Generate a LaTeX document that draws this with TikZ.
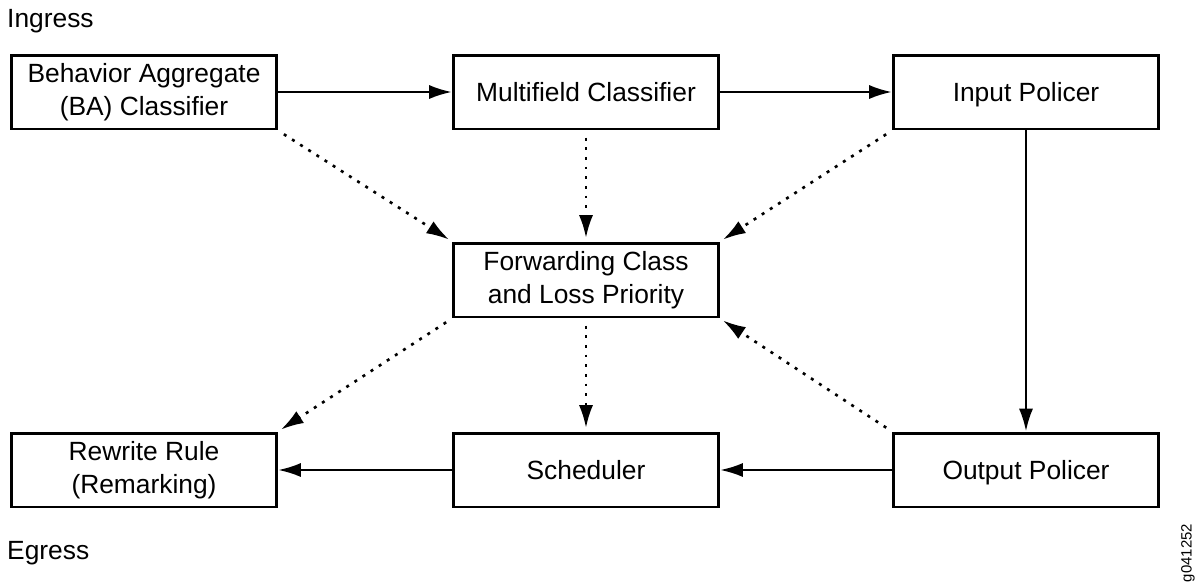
\documentclass[tikz,border=0pt]{standalone}
\usepackage{fontspec}
\setmainfont{Liberation Sans}
\usetikzlibrary{arrows.meta}

\begin{document}
\begin{tikzpicture}[x=0.02cm, y=-0.02cm,
	box/.style={draw, line width=1.7pt, minimum width=5.3cm, minimum height=1.48cm,
		align=center, inner sep=0pt, font=\fontsize{15}{18.5}\selectfont},
	oneline/.style={text height=10.8pt, text depth=0pt},
	flow/.style={line width=1.5pt, -{Latex[length=13pt,width=8pt]}},
	link/.style={flow, dash pattern=on 1.7pt off 3.8pt, shorten <=4pt, shorten >=2pt}]
	\useasboundingbox (0,0) rectangle (1198,586);

	\node[anchor=west, font=\fontsize{15}{18}\selectfont] (ingress) at (1,21) {Ingress};
	\node[anchor=west, font=\fontsize{15}{18}\selectfont] (egress) at (1,553) {Egress};
	\node[rotate=90, font=\fontsize{8.5}{10}\selectfont] (figid) at (1188,553) {g041252};

	\node[box] (ba) at (144,92) {Behavior Aggregate\\(BA) Classifier};
	\node[box, oneline] (mf) at (586,92) {Multifield Classifier};
	\node[box, oneline] (inpol) at (1026,92) {Input Policer};
	\node[box] (fc) at (586,280) {Forwarding Class\\and Loss Priority};
	\node[box] (rw) at (144,470) {Rewrite Rule\\(Remarking)};
	\node[box, oneline] (sched) at (586,470) {Scheduler};
	\node[box, oneline] (outpol) at (1026,470) {Output Policer};

	% solid path
	\draw [flow] (ba) -- (mf);
	\draw [flow] (mf) -- (inpol);
	\draw [flow] (inpol) -- (outpol);
	\draw [flow] (outpol) -- (sched);
	\draw [flow] (sched) -- (rw);

	% dotted links through the forwarding class
	\draw [link] (ba.south east) -- (fc.north west);
	\draw [link] (mf) -- (fc);
	\draw [link] (inpol.south west) -- (fc.north east);
	\draw [link] (fc.south west) -- (rw.north east);
	\draw [link] (fc) -- (sched);
	\draw [link] (outpol.north west) -- (fc.south east);
\end{tikzpicture}
\end{document}
